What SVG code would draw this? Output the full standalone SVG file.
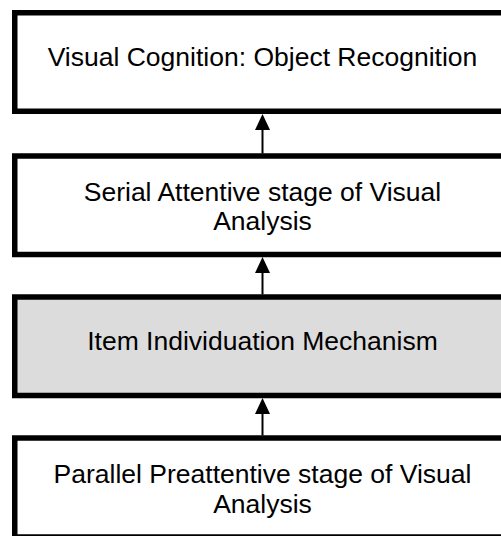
<svg xmlns="http://www.w3.org/2000/svg" width="501" height="536" viewBox="0 0 501 536">
  <style>
    .box { fill: #ffffff; stroke: #000000; stroke-width: 5.5; }
    .box.shaded { fill: #dcdcdc; }
    .label { font-family: "Liberation Sans", Arial, sans-serif; font-size: 26.5px; fill: #000000; text-anchor: middle; }
    .link { stroke: #000000; stroke-width: 2; fill: none; }
    .head { fill: #000000; }
  </style>

  <rect width="501" height="536" fill="#ffffff"/>

  <g id="visual-cognition">
    <rect class="box" x="14.75" y="12.75" width="500" height="98.5"/>
    <text class="label" x="262.5" y="66">Visual Cognition: Object Recognition</text>
  </g>

  <g id="serial-attentive">
    <rect class="box" x="14.75" y="156" width="500" height="98.5"/>
    <text class="label" x="262.5" y="200.5">Serial Attentive stage of Visual</text>
    <text class="label" x="262.5" y="230">Analysis</text>
  </g>

  <g id="item-individuation">
    <rect class="box shaded" x="14.75" y="297" width="500" height="98.5"/>
    <text class="label" x="262.5" y="350">Item Individuation Mechanism</text>
  </g>

  <g id="parallel-preattentive">
    <rect class="box" x="14.75" y="438" width="500" height="99"/>
    <text class="label" x="262.5" y="482.5">Parallel Preattentive stage of Visual</text>
    <text class="label" x="262.5" y="513">Analysis</text>
  </g>

  <g id="connectors">
    <line class="link" x1="262.5" y1="153.5" x2="262.5" y2="128"/>
    <polygon class="head" points="262.5,114 255,130 270,130"/>
    <line class="link" x1="262.5" y1="294.5" x2="262.5" y2="271"/>
    <polygon class="head" points="262.5,257 255,273 270,273"/>
    <line class="link" x1="262.5" y1="435.5" x2="262.5" y2="412"/>
    <polygon class="head" points="262.5,398 255,414 270,414"/>
  </g>
</svg>
